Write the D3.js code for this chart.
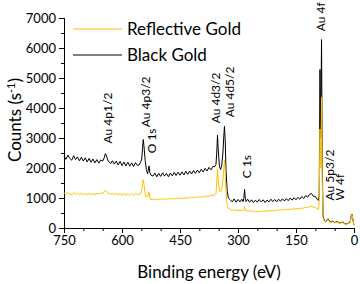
<!DOCTYPE html>
<html>
<head>
<meta charset="utf-8">
<script src="https://cdn.jsdelivr.net/npm/d3@7"></script>
<style>
  body { margin: 0; background: #fff; }
  #chart { width: 360px; height: 284px; }
  text { font-family: Lato, "Open Sans", sans-serif; fill: #000; }
</style>
</head>
<body>
<div id="chart"></div>
<script>
// binding energy grid (eV), shared by both spectra
const energy = [
  750,745,740,735,730,725,720,715,710,705,700,695,690,685,680,675,670,665,660,655,
  650,646,643,640,637,633,629,625,
  620,615,610,605,600,595,590,585,580,575,570,565,560,
  556,552,549,547,545,543,540,537,534,532,530,528,525,
  520,515,510,505,500,495,490,485,480,475,470,465,460,455,450,445,440,435,430,425,
  420,415,410,405,400,395,390,385,380,375,370,365,
  360,357,355,353,351,348,345,342,339,337,335,333,331,328,325,320,
  315,310,305,300,295,290,287,285,283,281,279,275,270,
  265,260,255,250,245,240,235,230,225,220,215,210,205,200,195,190,185,180,175,170,
  165,160,155,150,145,140,135,130,125,120,115,110,105,100,95,
  92,90,88,86,84,82,80,77,74,70,67,64,60,55,50,45,40,35,30,25,20,15,10,7,5,3,1,0
];

// counts per second, black gold
const blackGold = [
  2400,2290,2430,2320,2260,2410,2280,2370,2240,2360,2230,2340,2200,2320,2190,2300,2170,2280,2160,2270,
  2230,2340,2480,2400,2270,2190,2150,2240,
  2130,2230,2100,2220,2080,2200,2070,2190,2060,2170,2050,2180,2080,
  2100,2190,2300,2650,2950,2700,2250,1950,1800,1920,2070,1850,1760,
  1730,1830,1710,1820,1720,1840,1730,1820,1710,1830,1740,1850,1750,1860,1760,1870,1770,1890,1790,1900,
  1800,1920,1820,1930,1840,1960,1870,1990,1900,2020,1940,2050,
  2050,2120,2500,3090,2600,2050,1950,2100,2500,3000,3390,2900,1900,1250,1000,940,
  870,970,860,950,870,960,880,980,1290,990,880,960,860,
  940,850,930,860,950,870,940,850,930,870,960,880,950,870,960,890,970,900,980,910,
  1000,930,1010,940,1020,960,1050,980,1080,1030,1120,1150,1060,1050,950,
  920,1100,5280,3000,6280,2000,400,260,220,250,310,230,200,230,180,210,190,170,200,150,130,160,200,420,460,300,150,100
];

// counts per second, reflective gold
const reflectiveGold = [
  1170,1120,1180,1130,1110,1170,1120,1160,1100,1160,1110,1150,1100,1160,1110,1150,1110,1160,1120,1170,
  1150,1210,1260,1230,1170,1140,1120,1160,
  1110,1150,1100,1150,1090,1140,1090,1140,1080,1140,1090,1150,1110,
  1130,1150,1250,1450,1610,1450,1150,1030,1050,1100,1200,1000,940,
  960,930,970,940,975,945,980,950,985,955,990,960,1000,970,1005,975,1010,985,1020,995,
  1030,1005,1040,1015,1050,1025,1060,1040,1075,1055,1090,1080,
  1100,1150,1500,1980,1600,1250,1200,1300,1600,1950,2250,1900,1200,750,660,620,
  590,610,580,600,570,600,580,610,720,600,560,580,560,
  570,530,570,530,565,540,575,550,580,560,590,570,595,580,605,590,615,600,625,610,
  635,620,645,630,655,640,665,660,690,680,715,720,700,680,640,
  620,900,3300,2000,4370,1500,350,230,200,230,290,210,180,210,170,190,170,160,180,140,120,150,180,400,440,280,140,90
];

// peak annotations: name, energy (eV), bottom of label (counts)
const peakNames = ["Au 4p1/2","Au 4p3/2","O 1s","Au 4d3/2","Au 4d5/2","C 1s","Au 4f","Au 5p3/2","W 4f"];
const peakEnergy = [636, 538, 522, 357, 321, 277, 85, 62, 36];
const peakLabelY = [2820, 3360, 2490, 3490, 3690, 1660, 6560, 920, 920];

const xTicks = [750, 600, 450, 300, 150, 0];
const yTicks = [0, 1000, 2000, 3000, 4000, 5000, 6000, 7000];

const seriesNames = ["Reflective Gold", "Black Gold"];
const seriesColors = ["#ffc000", "#000000"];

const width = 360, height = 284;
const margin = { top: 18, right: 6, bottom: 56, left: 64 };

const svg = d3.select("#chart").append("svg")
    .attr("width", width)
    .attr("height", height);

const x = d3.scaleLinear().domain([750, 0]).range([margin.left, width - margin.right]);
const y = d3.scaleLinear().domain([0, 7000]).range([height - margin.bottom, margin.top]);

// axes (major + minor ticks)
const xMinor = d3.range(0, 751, 50).filter(v => !xTicks.includes(v));
const yMinor = d3.range(0, 7001, 500).filter(v => !yTicks.includes(v));

const gx = svg.append("g").attr("transform", `translate(0,${y(0)})`);
gx.call(d3.axisBottom(x).tickValues(xMinor).tickSize(3).tickFormat(""));
gx.append("g").call(d3.axisBottom(x).tickValues(xTicks).tickSize(5).tickPadding(3).tickFormat(d3.format("d")));
gx.selectAll("text").style("font-size", "13px");

const gy = svg.append("g").attr("transform", `translate(${x(750)},0)`);
gy.call(d3.axisLeft(y).tickValues(yMinor).tickSize(3).tickFormat(""));
gy.append("g").call(d3.axisLeft(y).tickValues(yTicks).tickSize(5).tickPadding(3).tickFormat(d3.format("d")));
gy.selectAll("text").style("font-size", "13px");

svg.selectAll(".domain, .tick line").attr("stroke", "#000");

// spectra
const line = vals => d3.line()
    .x((d, i) => x(energy[i]))
    .y(d => y(d))(vals);

svg.append("path")
    .attr("d", line(blackGold))
    .attr("fill", "none")
    .attr("stroke", seriesColors[1])
    .attr("stroke-width", 1);

svg.append("path")
    .attr("d", line(reflectiveGold))
    .attr("fill", "none")
    .attr("stroke", seriesColors[0])
    .attr("stroke-width", 1);

// peak labels
svg.selectAll(".peak")
    .data(peakNames)
    .enter()
    .append("text")
    .attr("class", "peak")
    .attr("transform", (d, i) => `translate(${x(peakEnergy[i])},${y(peakLabelY[i])}) rotate(-90)`)
    .attr("dy", "0.35em")
    .style("font-size", "12px")
    .text(d => d);

// legend
const legend = svg.append("g");
seriesNames.forEach((name, i) => {
    const ly = 29 + i * 26;
    legend.append("line")
        .attr("x1", 73).attr("x2", 122)
        .attr("y1", ly).attr("y2", ly)
        .attr("stroke", seriesColors[i])
        .attr("stroke-width", 1.2);
    legend.append("text")
        .attr("x", 127).attr("y", ly)
        .attr("dy", "0.35em")
        .style("font-size", "17px")
        .text(name);
});

// axis titles
svg.append("text")
    .attr("x", (x(750) + x(0)) / 2)
    .attr("y", 278)
    .attr("text-anchor", "middle")
    .style("font-size", "17px")
    .text("Binding energy (eV)");

const yt = svg.append("text")
    .attr("transform", "translate(21,120) rotate(-90)")
    .attr("text-anchor", "middle")
    .style("font-size", "17px");
yt.append("tspan").text("Counts (s");
yt.append("tspan").attr("dy", -6).style("font-size", "11px").text("-1");
yt.append("tspan").attr("dy", 6).text(")");
</script>
</body>
</html>
